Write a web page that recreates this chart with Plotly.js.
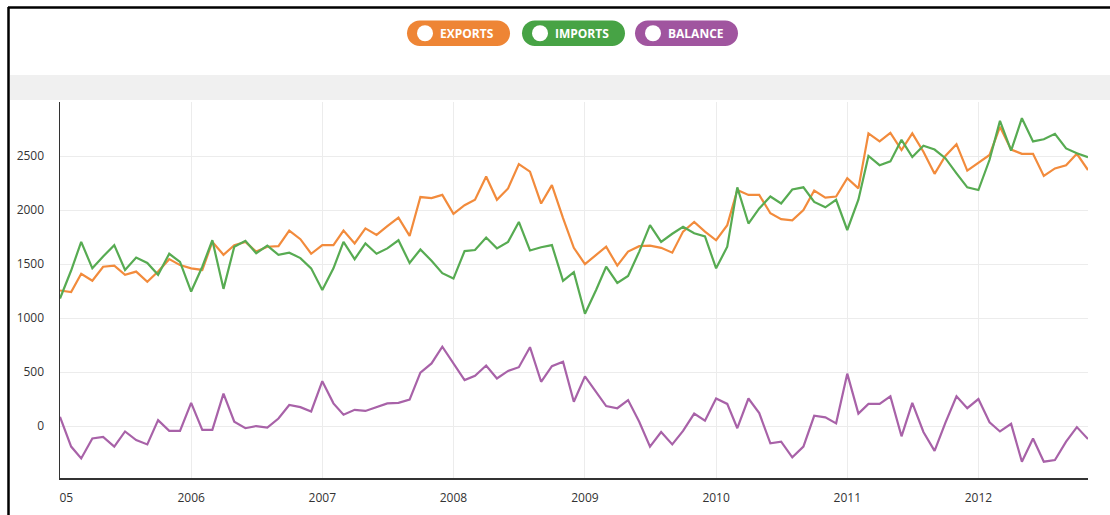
<!DOCTYPE html>
<html>
<head>
<meta charset="utf-8">
<script src="https://cdn.plot.ly/plotly-3.0.1.min.js"></script>
<style>html,body{margin:0;padding:0;background:#fff;}#chart{width:1110px;height:515px;}</style>
</head>
<body>
<div id="chart"></div>
<script>
// ---- data (monthly, Jan 2005 .. Nov 2012) ----
const startYear = 2005, startMonth = 1, monthCount = 95;
const exportsVals = [1255,1240,1410,1345,1475,1485,1400,1430,1335,1430,1545,1490,
  1460,1445,1705,1585,1675,1705,1615,1660,1665,1810,1730,1595,
  1675,1675,1810,1690,1830,1770,1850,1930,1760,2120,2110,2140,
  1965,2045,2095,2310,2095,2200,2425,2355,2060,2230,1925,1650,
  1500,1585,1660,1485,1615,1665,1670,1650,1605,1800,1890,1800,
  1720,1860,2185,2140,2140,1970,1915,1905,2000,2180,2115,2125,
  2295,2200,2710,2635,2715,2555,2710,2540,2335,2500,2610,2365,
  2440,2510,2770,2560,2520,2520,2315,2385,2415,2520,2370];
const importsVals = [1180,1440,1705,1460,1570,1675,1445,1560,1510,1400,1595,1520,
  1245,1475,1720,1270,1660,1715,1600,1670,1585,1605,1555,1460,
  1260,1460,1705,1545,1690,1595,1645,1720,1510,1635,1530,1415,
  1365,1620,1630,1745,1645,1705,1890,1625,1655,1675,1345,1425,
  1040,1260,1475,1325,1390,1615,1860,1705,1780,1845,1785,1755,
  1460,1660,2210,1875,2015,2125,2060,2190,2210,2075,2025,2095,
  1815,2095,2500,2415,2450,2650,2490,2595,2560,2480,2340,2210,
  2185,2465,2825,2550,2850,2635,2655,2705,2570,2525,2490];
const balanceVals = [85,-190,-300,-115,-100,-190,-50,-130,-170,55,-45,-45,
  215,-35,-35,300,40,-20,0,-15,70,195,175,135,
  415,210,105,150,140,175,210,215,245,495,580,735,
  580,425,465,560,440,510,545,730,410,555,595,225,
  460,320,185,165,240,40,-190,-55,-170,-45,115,50,
  255,205,-20,255,120,-160,-145,-290,-190,95,80,25,
  485,115,205,205,275,-95,215,-55,-230,30,275,165,
  250,35,-50,20,-330,-115,-330,-315,-145,-10,-120];
const seriesNames = ['EXPORTS','IMPORTS','BALANCE'];
const seriesColors = ['#F28B3C','#57AB52','#A862A8'];
const pillColors = ['#EE8535','#47A345','#A0559F'];
const yTickVals = [0,500,1000,1500,2000,2500];
const xTickVals = ['2005-01-01','2006-01-01','2007-01-01','2008-01-01','2009-01-01','2010-01-01','2011-01-01','2012-01-01'];
const xTickText = ['\u00a0\u00a0\u00a0\u00a005','2006','2007','2008','2009','2010','2011','2012'];

// month dates
const months = [];
for (let k = 0; k < monthCount; k++) {
  const m = startMonth - 1 + k;
  const y = startYear + Math.floor(m / 12);
  const mm = (m % 12) + 1;
  months.push(y + '-' + String(mm).padStart(2,'0') + '-01');
}

const W = 1110, H = 515, ML = 60, MR = 22, MT = 102, MB = 37;
const PW = W - ML - MR, PH = H - MT - MB;
const px = v => (v - ML) / PW;
const py = v => (H - MB - v) / PH;

const valueSets = [exportsVals, importsVals, balanceVals];
const traces = valueSets.map((vals, s) => ({
  type: 'scatter', mode: 'lines', x: months, y: vals, name: seriesNames[s],
  line: {color: seriesColors[s], width: 2.2}, showlegend: false, hoverinfo: 'x+y'
}));

// pill legend
const pills = [[407,510],[522,625],[635,738]];
const shapes = [];
const annotations = [];
const pTop = 20.5, pBot = 46;
pills.forEach((p, s) => {
  const r = (pBot - pTop) / 2, k = 0.5523 * r;
  const x0 = p[0], x1 = p[1];
  const cy = (pTop + pBot) / 2;
  const P = (a, b) => px(a).toFixed(5) + ',' + py(b).toFixed(5);
  const path = 'M' + P(x0 + r, pTop) + ' L' + P(x1 - r, pTop) +
    ' C' + P(x1 - r + k, pTop) + ' ' + P(x1, cy - k) + ' ' + P(x1, cy) +
    ' C' + P(x1, cy + k) + ' ' + P(x1 - r + k, pBot) + ' ' + P(x1 - r, pBot) +
    ' L' + P(x0 + r, pBot) +
    ' C' + P(x0 + r - k, pBot) + ' ' + P(x0, cy + k) + ' ' + P(x0, cy) +
    ' C' + P(x0, cy - k) + ' ' + P(x0 + r - k, pTop) + ' ' + P(x0 + r, pTop) + ' Z';
  shapes.push({type: 'path', xref: 'paper', yref: 'paper', path: path,
    fillcolor: pillColors[s], line: {width: 0}, layer: 'above'});
  const ccx = x0 + 18, cr = 8;
  shapes.push({type: 'circle', xref: 'paper', yref: 'paper',
    x0: px(ccx - cr), x1: px(ccx + cr), y0: py(cy + cr), y1: py(cy - cr),
    fillcolor: '#ffffff', line: {width: 0}, layer: 'above'});
  annotations.push({xref: 'paper', yref: 'paper', x: px(ccx + 13), y: py(cy),
    xanchor: 'left', yanchor: 'middle', showarrow: false, text: '<b>' + seriesNames[s] + '</b>',
    font: {family: 'Open Sans, sans-serif', size: 12, color: '#ffffff'}});
});
// grey band
shapes.push({type: 'rect', xref: 'paper', yref: 'paper', x0: px(10), x1: px(1110), y0: py(100), y1: py(75),
  fillcolor: '#f0f0f0', line: {width: 0}, layer: 'below'});
// frame lines (top and left)
shapes.push({type: 'line', xref: 'paper', yref: 'paper', x0: px(8), x1: px(1110), y0: py(7.5), y1: py(7.5),
  line: {color: '#000000', width: 2.5}});
shapes.push({type: 'line', xref: 'paper', yref: 'paper', x0: px(8.5), x1: px(8.5), y0: py(7), y1: py(515),
  line: {color: '#000000', width: 2.5}});

const layout = {
  width: W, height: H,
  margin: {l: ML, r: MR, t: MT, b: MB, pad: 0},
  paper_bgcolor: '#ffffff', plot_bgcolor: '#ffffff',
  showlegend: false,
  font: {family: 'Open Sans, sans-serif', size: 12, color: '#333333'},
  xaxis: {type: 'date', range: [months[0], months[months.length - 1]],
    tickvals: xTickVals, ticktext: xTickText, showgrid: true, gridcolor: '#ececec', gridwidth: 1,
    showline: true, linecolor: '#333333', linewidth: 1.5, ticks: '', ticklabelstandoff: 8,
    zeroline: false, tickfont: {size: 12, color: '#333333'}, fixedrange: true},
  yaxis: {range: [-481, 3000], tickvals: yTickVals, showgrid: true, gridcolor: '#ececec', gridwidth: 1,
    showline: true, linecolor: '#333333', linewidth: 1.5, ticks: '', ticklabelstandoff: 12,
    zeroline: false, tickfont: {size: 12, color: '#333333'}, fixedrange: true},
  shapes: shapes,
  annotations: annotations
};

Plotly.newPlot('chart', traces, layout, {displayModeBar: false, staticPlot: true});
</script>
</body>
</html>
